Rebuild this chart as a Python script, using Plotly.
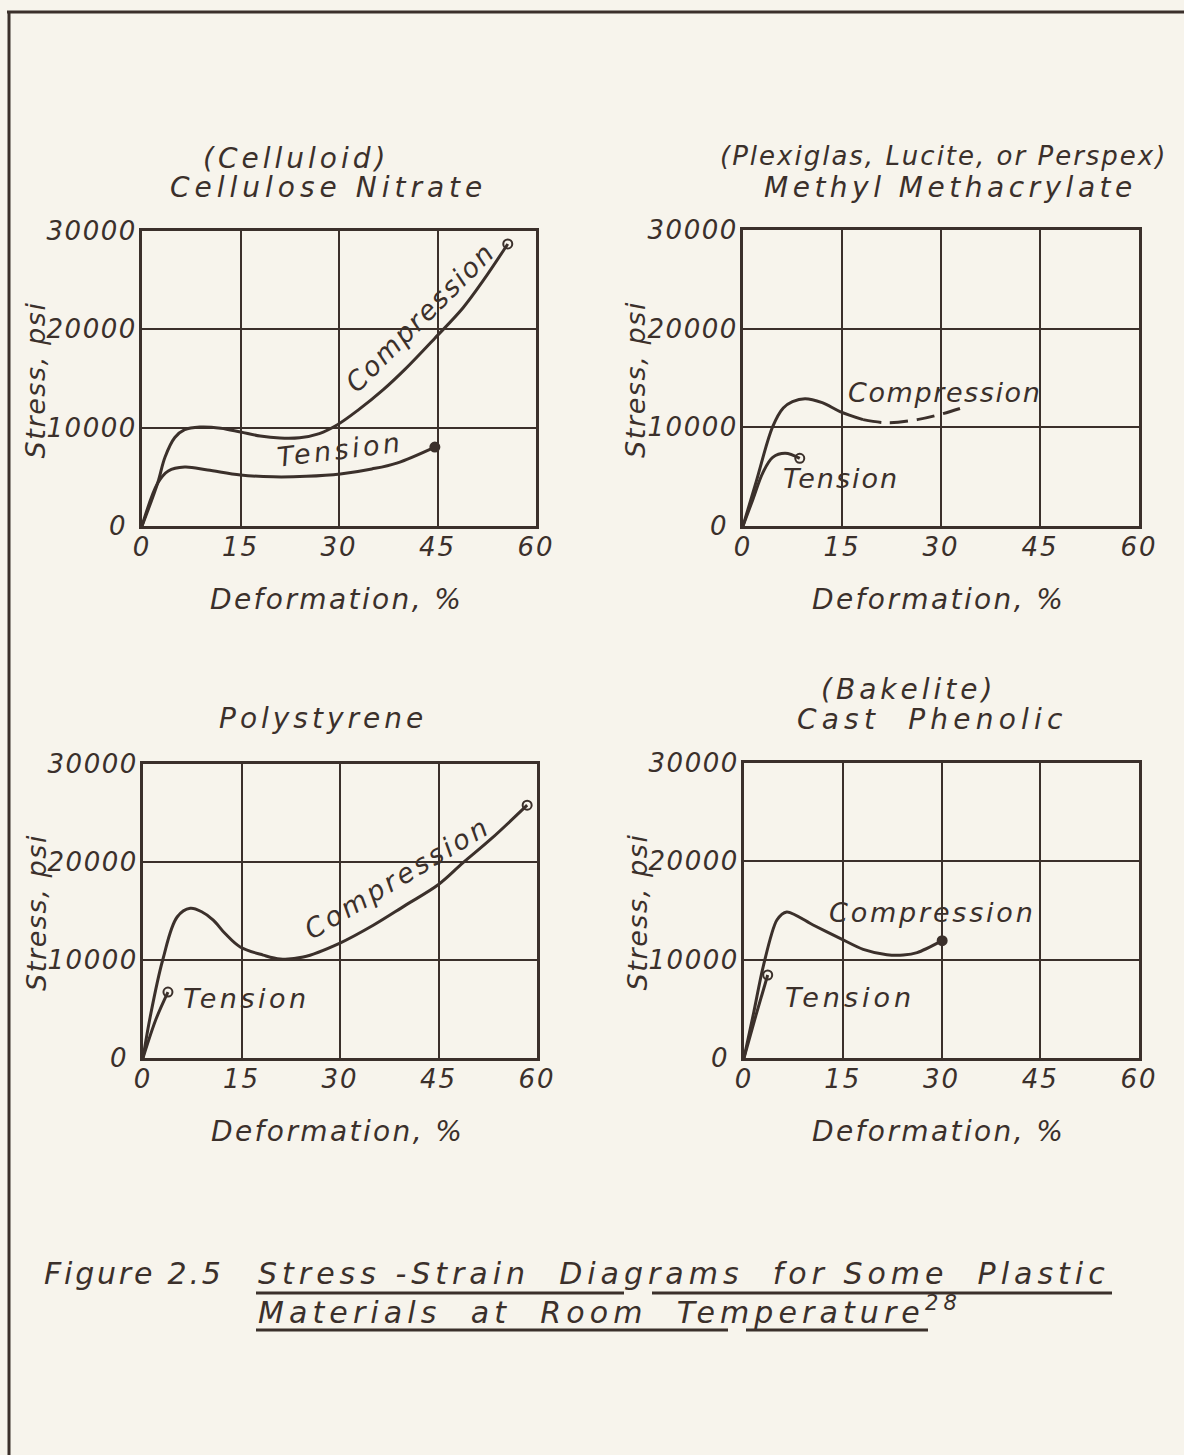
import plotly.graph_objects as go

W, H = 1184, 1455
INK = "#3b302b"
BG = "#f7f4ec"
FONT = "DejaVu Sans"

# ---------------- data ----------------
x_ticks = [0, 15, 30, 45, 60]
x_tick_text = ["0", "15", "30", "45", "60"]
y_ticks = [0, 10000, 20000, 30000]
y_tick_text = ["0&nbsp;", "10000", "20000", "30000"]

# Cellulose Nitrate (Celluloid)
cn_comp_x = [0, 2.4, 3.5, 5, 6.5, 8.8, 12, 15, 18, 21, 24, 27, 29.7, 33, 36.7, 40, 44.6, 48.9, 52, 55.7]
cn_comp_y = [0, 4400, 7000, 9000, 9800, 10070, 9950, 9560, 9150, 8950, 8980, 9400, 10270, 11830, 13840, 15900, 19100, 22200, 25000, 28680]
cn_ten_x = [0, 2.4, 4, 6.5, 10, 15, 20, 25, 30.2, 35, 38.8, 44.6]
cn_ten_y = [0, 4370, 5600, 6000, 5700, 5190, 5000, 5050, 5290, 5800, 6400, 8030]

# Methyl Methacrylate (Plexiglas)
mm_comp_x = [0, 2, 4.5, 6.1, 7.5, 9.4, 12, 14.7, 18.2]
mm_comp_y = [0, 4500, 10070, 11960, 12600, 12900, 12500, 11600, 10780]
mm_comp_dash_x = [18.2, 21.8, 26.4, 30.3, 33.3]
mm_comp_dash_y = [10780, 10470, 10780, 11390, 12000]
mm_ten_x = [0, 1.5, 3.0, 4.5, 6.4, 8.6]
mm_ten_y = [0, 2700, 5390, 6960, 7370, 6860]

# Polystyrene
ps_comp_x = [0, 1.1, 3.0, 5.2, 7.2, 9, 10.7, 12.5, 14.8, 18.3, 20.9, 24.4, 30, 35, 40, 45, 48.7, 53, 58.5]
ps_comp_y = [0, 4210, 10000, 14390, 15270, 14900, 14080, 12700, 11330, 10500, 10100, 10300, 11730, 13520, 15600, 17700, 19900, 22350, 25800]
ps_ten_x = [0, 2.0, 3.8]
ps_ten_y = [0, 4000, 6730]

# Cast Phenolic (Bakelite)
pf_comp_x = [0, 1.5, 2.9, 5.0, 6.5, 10.5, 14.6, 18.1, 21.7, 24.2, 26.3, 30.1]
pf_comp_y = [0, 4700, 9250, 14030, 14850, 13525, 12170, 11050, 10510, 10475, 10710, 11930]
pf_ten_x = [0, 1.8, 3.6]
pf_ten_y = [0, 4300, 8440]


def px(x):
    return x / W


def py(y):
    return 1 - y / H


def spaced(text, ls):
    return "<span style='letter-spacing:%.1fpx'>%s</span>" % (ls, text)


fig = go.Figure()

# panel pixel boxes: (left, right, top, bottom)
boxes = {
    1: (142, 536, 231, 526),
    2: (743, 1139, 230, 526),
    3: (143, 537, 764, 1058),
    4: (744, 1139, 763, 1058),
}


def line(xs, ys, n, dash="solid", smoothing=1.0):
    sfx = "" if n == 1 else str(n)
    fig.add_trace(go.Scatter(
        x=xs, y=ys, mode="lines", xaxis="x" + sfx, yaxis="y" + sfx,
        line=dict(color=INK, width=3, shape="spline", smoothing=smoothing, dash=dash),
        hoverinfo="skip", showlegend=False))


def endpoint(xs, ys, n, filled):
    sfx = "" if n == 1 else str(n)
    fig.add_trace(go.Scatter(
        x=[xs[-1]], y=[ys[-1]], mode="markers", xaxis="x" + sfx, yaxis="y" + sfx,
        marker=dict(symbol="circle" if filled else "circle-open", size=9,
                    color=INK, line=dict(color=INK, width=2)),
        hoverinfo="skip", showlegend=False))


line(cn_comp_x, cn_comp_y, 1)
endpoint(cn_comp_x, cn_comp_y, 1, False)
line(cn_ten_x, cn_ten_y, 1)
endpoint(cn_ten_x, cn_ten_y, 1, True)

line(mm_comp_x, mm_comp_y, 2)
line(mm_comp_dash_x, mm_comp_dash_y, 2, dash="18px,9px")
line(mm_ten_x, mm_ten_y, 2)
endpoint(mm_ten_x, mm_ten_y, 2, False)

line(ps_comp_x, ps_comp_y, 3)
endpoint(ps_comp_x, ps_comp_y, 3, False)
line(ps_ten_x, ps_ten_y, 3)
endpoint(ps_ten_x, ps_ten_y, 3, False)

line(pf_comp_x, pf_comp_y, 4, smoothing=0.8)
endpoint(pf_comp_x, pf_comp_y, 4, True)
line(pf_ten_x, pf_ten_y, 4)
endpoint(pf_ten_x, pf_ten_y, 4, False)

tickfont = dict(family=FONT, size=26, color=INK, style="italic")
layout_axes = {}
for n, (l, r, t, b) in boxes.items():
    sfx = "" if n == 1 else str(n)
    layout_axes["xaxis" + sfx] = dict(
        domain=[px(l), px(r)], range=[0, 60], anchor="y" + sfx,
        tickmode="array", tickvals=x_ticks,
        ticktext=[spaced(t_, 2) for t_ in x_tick_text],
        showgrid=True, gridcolor=INK, gridwidth=2, zeroline=False,
        showline=True, linecolor=INK, linewidth=3, mirror=True, automargin=False,
        ticks="", ticklabelstandoff=-4, tickfont=tickfont, fixedrange=True)
    layout_axes["yaxis" + sfx] = dict(
        domain=[py(b), py(t)], range=[0, 30000], anchor="x" + sfx,
        tickmode="array", tickvals=y_ticks,
        ticktext=[spaced(t_, 1.5) for t_ in y_tick_text],
        showgrid=True, gridcolor=INK, gridwidth=2, zeroline=False,
        showline=True, linecolor=INK, linewidth=3, mirror=True, automargin=False,
        ticks="", ticklabelstandoff=-3, tickfont=tickfont, fixedrange=True)

annotations = []


def ptext(text, x, y, size=28, angle=0, xanchor="center", ls=0):
    annotations.append(dict(
        text=spaced(text, ls) if ls else text, x=px(x), y=py(y),
        xref="paper", yref="paper",
        xanchor=xanchor, yanchor="middle", showarrow=False, textangle=angle,
        font=dict(family=FONT, size=size, color=INK, style="italic")))


def dtext(text, x, y, n, size=27, angle=0, ls=0):
    sfx = "" if n == 1 else str(n)
    annotations.append(dict(
        text=spaced(text, ls) if ls else text, x=x, y=y,
        xref="x" + sfx, yref="y" + sfx,
        xanchor="center", yanchor="middle", showarrow=False, textangle=angle,
        font=dict(family=FONT, size=size, color=INK, style="italic")))


# panel titles
ptext("(Celluloid)", 296, 158, ls=4)
ptext("Cellulose Nitrate", 328, 188, ls=5)
ptext("(Plexiglas, Lucite, or Perspex)", 943, 156, size=26, ls=2)
ptext("Methyl Methacrylate", 950, 188, ls=4.5)
ptext("Polystyrene", 323, 718, ls=4)
ptext("(Bakelite)", 908, 689, ls=4)
ptext("Cast  Phenolic", 932, 719, ls=5.2)

# axis titles
for n, (l, r, t, b) in boxes.items():
    ptext("Deformation, %", (l + r) / 2 - 3, b + 73, size=28, ls=2.4)
    ptext("Stress, psi", l - 107, (t + b) / 2 + 2, size=27, angle=-90, ls=1.6)

# curve labels
dtext("Compression", 42.3, 21250, 1, angle=-45, ls=2)
dtext("Tension", 30.2, 7730, 1, angle=-7, ls=3.5)
dtext("Compression", 30.6, 13580, 2, ls=1.6)
dtext("Tension", 14.8, 4860, 2, ls=2)
dtext("Compression", 38.8, 18370, 3, angle=-31, ls=3.2)
dtext("Tension", 15.8, 6120, 3, ls=3.5)
dtext("Compression", 28.6, 14750, 4, ls=2.8)
dtext("Tension", 16.1, 6200, 4, ls=4)

# caption
ptext("Figure 2.5", 42, 1273, size=30, xanchor="left", ls=2.8)
ptext("Stress -Strain  Diagrams  for Some  Plastic", 256, 1273, size=30, xanchor="left", ls=5.0)
ptext("Materials  at  Room  Temperature<sup>28</sup>", 256, 1310, size=30, xanchor="left", ls=5.1)

shapes = []


def seg(x0, y0, x1, y1, w=3):
    shapes.append(dict(type="line", xref="paper", yref="paper",
                       x0=px(x0), y0=py(y0), x1=px(x1), y1=py(y1),
                       line=dict(color=INK, width=w)))


# page frame
seg(9, 12, 9, H + 5)
seg(7, 12, W + 5, 12)
# caption underlines
seg(256, 1293, 624, 1293)
seg(652, 1293, 1112, 1293)
seg(256, 1330, 728, 1330)
seg(746, 1330, 928, 1330)

fig.update_layout(
    width=W, height=H, autosize=False,
    margin=dict(l=0, r=0, t=0, b=0, pad=0, autoexpand=False),
    paper_bgcolor=BG, plot_bgcolor=BG, showlegend=False,
    annotations=annotations, shapes=shapes, **layout_axes)

fig.write_html("out.html")
